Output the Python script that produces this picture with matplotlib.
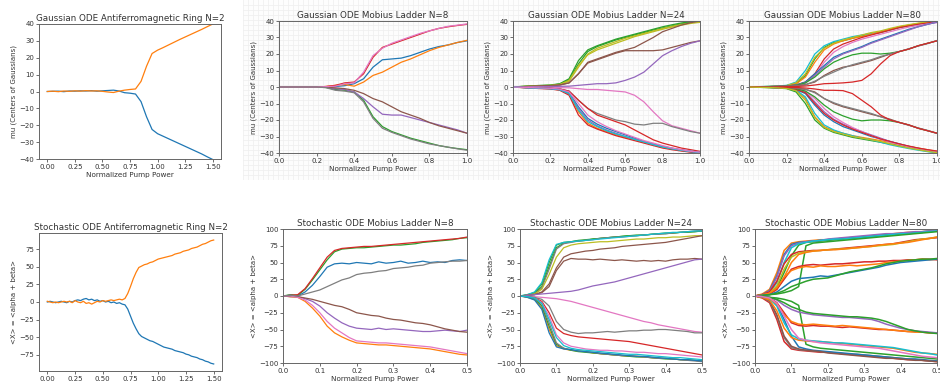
import numpy as np
import matplotlib.pyplot as plt

# ---- data ----
# antiferromagnetic ring, gaussian ODE (x 0..1.5)
ring_gauss_blue = [0, 0.1, 0.2, -0.1, 0.3, 0.2, 0.4, 0.3, 0.5, 0.2, 0.4, 0.6, 0.8, 0.3, -0.7, -1.0, -1.5,
                   -6, -15, -22.5, -25, -26.5, -28, -29.5, -31, -32.5, -34, -35.5, -37, -38.7, -40.3]
ring_gauss_orange = [0, 0.2, -0.1, 0.3, 0.1, 0.4, 0.2, 0.5, 0.3, 0.4, 0.1, -0.3, -0.6, 0.2, 0.8, 1.2, 1.5,
                     6, 15, 22.5, 24.5, 26, 27.6, 29.2, 30.8, 32.3, 33.8, 35.3, 36.8, 38.4, 40]

# antiferromagnetic ring, stochastic ODE (x 0..1.5)
ring_sto_blue = [0, 1, 0, -1, 0, 1, 0, -1, 1, 0, 2, 3, 2, 4, 5, 3, 4, 2, 3, 1, 2, 0, 1, -1, 0, -2, -1, -3, -4,
                 -10, -20, -30, -38, -45, -49, -51, -53, -55, -56, -58, -60, -62, -64, -65, -66, -67, -69, -70,
                 -71, -72, -74, -75, -77, -78, -79, -81, -82, -84, -85, -87, -88]
ring_sto_orange = [1, 0, -1, 0, -1, 0, 1, 0, 1, -1, 2, 0, -1, 1, -2, -1, -3, -1, 1, 0, 2, 1, 2, 3, 2, 3, 4, 3, 5,
                   12, 22, 33, 42, 49, 51, 53, 54, 56, 57, 59, 61, 62, 63, 64, 65, 66, 68, 69, 70, 72, 73, 74,
                   76, 77, 78, 80, 82, 83, 85, 87, 88]

# mobius ladder, gaussian ODE (x 0..1)
gauss_n8 = [
    ("C0", [0, 0, 0, 0, 0, 0.2, 0.3, 0.8, 2, 5, 12, 16.5, 17, 17.5, 19, 21, 23, 24.5, 25.5, 27, 28]),
    ("C1", [0, 0, 0, 0, 0, 0.3, 1, 1.5, 0.5, 3, 7, 9, 12, 15, 17, 19.5, 22, 24, 25.5, 27, 28.3]),
    ("C2", [0, 0, 0, 0, 0, -0.3, -1.5, -2, -3, -8, -18, -24, -27, -29, -31, -32.5, -34, -35.5, -36.5, -37.3, -38]),
    ("C3", [0, 0, 0, 0, 0, 0.3, 1, 2.5, 3, 8, 18, 24, 26, 28, 30, 32, 34, 35.5, 36.5, 37.3, 38]),
    ("C4", [0, 0, 0, 0, 0, -0.2, -1, -1.5, -3, -7, -12, -16.5, -17, -17, -18.5, -20, -21.5, -23, -24.5, -26, -28]),
    ("C5", [0, 0, 0, 0, 0, -0.2, -0.5, -1, -2, -4, -7, -9, -12, -15, -17, -19, -21.5, -23.5, -25, -26.5, -28]),
    ("C6", [0, 0, 0, 0, 0, 0.2, 0.5, 2, 2.5, 9, 19, 23.5, 26.5, 28.5, 30.5, 32.5, 34, 35.5, 36.8, 37.5, 38.2]),
    ("C7", [0, 0, 0, 0, 0, -0.4, -2, -2.5, -3.5, -9, -19, -25, -27.5, -29.5, -31.5, -33, -34.5, -35.5, -36.5, -37.5, -38.3]),
]
gauss_n24 = [
    ("C2", [0, 0.3, 0.6, 0.8, 1, 1.8, 4.5, 14, 21.5, 24.5, 26.5, 28.5, 30, 31.5, 33, 34.5, 35.8, 37, 38.2, 39.2, 40]),
    ("C8", [0, 0.2, 0.5, 0.7, 0.9, 1.5, 3.5, 12, 20, 23.5, 25.5, 27.5, 29.5, 31, 32.5, 34, 35.5, 36.8, 38, 39, 39.7]),
    ("C2", [0, 0.4, 0.7, 1, 1.2, 2, 5, 16, 22.5, 25, 27, 29, 30.5, 32, 33.5, 35, 36.5, 37.7, 38.8, 39.6, 40.2]),
    ("C8", [0, 0.3, 0.5, 0.8, 1, 1.6, 4, 13, 19.5, 22.5, 24.5, 26.5, 28.5, 30.5, 32, 33.5, 35, 36.3, 37.5, 38.5, 39.2]),
    ("C5", [0, 0.2, 0.4, 0.6, 0.8, 1.2, 2.5, 8, 15, 17, 19, 21, 22.5, 24, 27, 30, 33.5, 35.5, 37.5, 39, 40]),
    ("C5", [0, 0.2, 0.4, 0.6, 0.8, 1.2, 2.5, 8, 14.5, 16.5, 18.5, 20.5, 22, 22, 22, 22, 22.5, 24, 25.5, 27, 28]),
    ("C4", [0, 0, 0.1, 0.2, 0.3, 0.4, 0.5, 1, 1.5, 2, 2, 2.5, 4, 6, 9, 14, 19, 22, 24.5, 26.5, 28]),
    ("C6", [0, 0, -0.1, -0.2, -0.3, -0.4, -0.5, -1, -1.5, -1.5, -2, -2.5, -3, -5, -9, -15, -20.5, -23.5, -25, -26.5, -28]),
    ("C7", [0, -0.2, -0.4, -0.6, -0.8, -1.2, -2.5, -8, -13, -16, -18, -20, -21, -22.5, -23, -22, -22, -24, -25.5, -27, -28]),
    ("C3", [0, -0.2, -0.4, -0.6, -0.8, -1.2, -2.5, -8, -13, -17, -19, -21, -23, -26, -29, -32, -34, -35.5, -37, -38, -39]),
    ("C1", [0, -0.3, -0.6, -0.8, -1, -1.8, -4.5, -15, -22, -25, -27, -29, -30.5, -32, -33.5, -35, -36.5, -37.5, -38.5, -39.3, -40]),
    ("C3", [0, -0.4, -0.7, -1, -1.2, -2, -5, -17, -23, -25.5, -27.5, -29.5, -31, -32.5, -34, -35.5, -37, -38, -38.8, -39.5, -40.2]),
    ("C0", [0, -0.2, -0.5, -0.7, -0.9, -1.5, -3.5, -12, -19, -22.5, -25, -27, -29, -31, -33, -34.5, -36, -37.2, -38.2, -39, -39.7]),
    ("C4", [0, -0.3, -0.5, -0.8, -1, -1.6, -4, -13, -20, -23.5, -26, -28, -30, -31.5, -33, -34.5, -36, -37, -38, -38.8, -39.5]),
    ("C9", [0, -0.3, -0.6, -0.8, -1, -1.7, -4, -14, -21, -24, -26.5, -28.5, -30, -31.8, -33.3, -35, -36.4, -37.5, -38.4, -39.2, -39.8]),
    ("C6", [0, -0.2, -0.4, -0.6, -0.8, -1.3, -3, -10, -17, -21, -24, -26.5, -28.5, -30.5, -32.5, -34, -35.5, -37, -38, -39, -39.5]),
]
gauss_n80 = [
    ("C2", [0, 0.1, 0.3, 0.5, 0.8, 2, 7, 17, 24, 27, 28, 29.5, 31, 32, 33, 34.5, 36, 37, 38, 39, 39.8]),
    ("C9", [0, 0.2, 0.4, 0.6, 1, 3, 10, 20, 25, 27.5, 29, 30.5, 31.5, 32.5, 33.5, 35, 36.3, 37.3, 38.3, 39.2, 40]),
    ("C1", [0, 0.1, 0.2, 0.4, 0.7, 1.8, 6, 15, 22.5, 26, 28, 29.5, 30.5, 32, 33.5, 35, 36.5, 37.5, 38.5, 39.3, 40]),
    ("C8", [0, 0.2, 0.3, 0.5, 0.9, 2.5, 8, 18, 23.5, 26.5, 28.5, 30, 31.5, 33, 34, 35.5, 36.8, 37.8, 38.7, 39.4, 40.1]),
    ("C3", [0, 0.1, 0.2, 0.3, 0.6, 1.2, 3, 8, 17, 23, 26, 28, 30, 31.5, 33, 34.5, 36, 37, 38, 38.8, 39.5]),
    ("C6", [0, 0.1, 0.2, 0.3, 0.5, 1, 2.5, 7, 15, 21, 24.5, 27, 29, 30.5, 32, 33.5, 35, 36.3, 37.3, 38.2, 39]),
    ("C0", [0, 0.1, 0.2, 0.4, 0.6, 1.2, 3, 8, 13, 18, 20.5, 22.5, 24.5, 27, 29, 31, 33, 35, 36.5, 38, 39.3]),
    ("C4", [0, 0.1, 0.2, 0.3, 0.5, 1, 2.5, 7, 12, 17, 20, 22, 24, 26.5, 28.5, 30.5, 32.5, 34.5, 36.5, 38, 39.5]),
    ("C2", [0, 0.1, 0.2, 0.3, 0.5, 1, 2.5, 6, 11, 15, 17.5, 19.5, 20.5, 20.5, 20, 20.5, 21.5, 23, 25, 26.5, 28]),
    ("C5", [0, 0.1, 0.2, 0.3, 0.5, 0.8, 1.5, 3, 7, 10, 12, 13, 14.5, 16, 18, 20, 21.5, 23, 25, 26.5, 28]),
    ("C7", [0, 0.1, 0.2, 0.3, 0.4, 0.7, 1.3, 3.5, 6.5, 9, 11.5, 13.5, 15, 16.5, 18.5, 20, 21.5, 23.2, 24.8, 26.3, 28.2]),
    ("C3", [0, 0, 0.1, 0.1, 0.2, 0.3, 0.6, 1.2, 2, 2.2, 2.5, 3, 4, 8, 14, 19, 21.5, 23, 25, 26.5, 28]),
    ("C1", [0, -0.1, -0.3, -0.5, -0.8, -2, -7, -18, -24, -26.5, -28, -29.5, -30.5, -31.5, -32.5, -33.5, -35, -36, -37, -38, -39]),
    ("C2", [0, -0.2, -0.4, -0.6, -1, -3, -10, -20, -25, -27.5, -29, -30.5, -31.5, -32.5, -33.5, -34.5, -35.5, -36.5, -37.5, -38.5, -39.5]),
    ("C9", [0, -0.1, -0.2, -0.4, -0.7, -1.8, -6, -16, -23, -26, -28, -29.5, -31, -32, -33.5, -35, -36.2, -37.3, -38.3, -39.2, -40]),
    ("C0", [0, -0.1, -0.2, -0.4, -0.7, -1.5, -4, -11, -17, -21, -24, -26, -28, -30, -31.5, -33, -34.5, -36, -37.2, -38.3, -39.3]),
    ("C4", [0, -0.1, -0.2, -0.3, -0.6, -1.2, -3, -9, -15, -19.5, -22.5, -25, -27, -29, -31, -33, -34.5, -36, -37.3, -38.5, -39.5]),
    ("C6", [0, -0.1, -0.2, -0.3, -0.5, -1, -2.5, -7, -13, -18, -21.5, -24.5, -27, -29.5, -31.5, -33.5, -35, -36.3, -37.3, -38.3, -39]),
    ("C3", [0, -0.1, -0.2, -0.3, -0.6, -1.4, -3.5, -10, -16, -20, -23, -25.5, -27.5, -29.5, -31.5, -33, -34.5, -35.8, -37, -38, -38.8]),
    ("C2", [0, -0.1, -0.2, -0.3, -0.5, -1, -2.5, -6, -11, -15, -17.5, -19.5, -20.5, -20, -20, -20.5, -21.5, -23, -25, -26.5, -28]),
    ("C5", [0, -0.1, -0.2, -0.3, -0.5, -0.8, -1.5, -3, -7, -10, -12, -13.5, -15, -16.5, -18, -19.5, -21.5, -23, -25, -26.5, -28]),
    ("C7", [0, -0.1, -0.2, -0.3, -0.4, -0.7, -1.3, -3.5, -7, -9.5, -11.5, -13, -14.5, -16, -18, -20, -21.5, -23.2, -24.8, -26.3, -28.2]),
    ("C3", [0, 0, -0.1, -0.1, -0.2, -0.3, -0.6, -1.2, -2, -2, -2.2, -4, -8, -12, -17, -20, -21.5, -23, -25, -26.5, -28]),
    ("C8", [0, -0.2, -0.3, -0.5, -0.9, -2.2, -8, -18.5, -24.5, -27, -28.5, -30, -31, -32, -33, -34.5, -35.8, -37, -38, -39, -39.8]),
]

# mobius ladder, stochastic ODE (x 0..0.5)
sto_n8 = [
    ("C0", [0, 1, 0, 6, 16, 29, 43, 48, 49, 48, 50, 49, 48, 51, 49, 50, 52, 49, 50, 52, 50, 51, 50, 53, 54, 53]),
    ("C1", [0, -1, -2, -8, -18, -30, -45, -55, -61, -66, -70, -71, -72, -73, -73, -74, -75, -76, -77, -78, -79, -81, -83, -85, -87, -88]),
    ("C2", [0, 2, 1, 10, 24, 39, 54, 66, 70, 71, 72, 72, 73, 74, 75, 76, 76, 77, 78, 80, 81, 82, 83, 84, 86, 87]),
    ("C3", [0, 1, 2, 11, 26, 42, 58, 68, 71, 72, 73, 74, 74, 75, 76, 77, 78, 79, 80, 81, 82, 83, 84, 85, 86, 88]),
    ("C4", [0, 1, -1, -4, -8, -15, -25, -33, -40, -45, -48, -49, -50, -48, -50, -49, -50, -51, -52, -53, -53, -52, -51, -52, -53, -51]),
    ("C5", [0, -1, -1, -3, -5, -8, -11, -14, -16, -20, -25, -27, -29, -30, -33, -35, -36, -38, -40, -41, -43, -46, -49, -51, -53, -54]),
    ("C6", [0, 0, -2, -6, -14, -25, -38, -48, -55, -62, -67, -68, -69, -70, -70, -71, -72, -73, -74, -75, -76, -78, -80, -82, -84, -86]),
    ("C7", [0, 1, 0, 3, 6, 9, 14, 19, 24, 27, 32, 34, 35, 37, 38, 41, 42, 43, 45, 46, 49, 50, 51, 52, 52, 53]),
]
sto_n24 = [
    ("C2", [0, 2, 5, 18, 50, 76, 80, 81, 82, 83, 85, 86, 87, 88, 89, 90, 91, 91, 92, 93, 94, 94, 95, 96, 96, 97]),
    ("C2", [0, 1, 4, 14, 44, 72, 79, 81, 83, 84, 85, 86, 87, 88, 89, 90, 90, 91, 92, 93, 93, 94, 95, 95, 96, 97]),
    ("C7", [0, 1, 3, 12, 40, 70, 78, 80, 82, 83, 84, 86, 87, 88, 88, 89, 90, 91, 92, 92, 93, 94, 95, 96, 97, 98]),
    ("C9", [0, 2, 6, 20, 54, 77, 80, 81, 82, 83, 84, 85, 86, 87, 88, 89, 90, 91, 92, 93, 94, 95, 95, 96, 97, 97]),
    ("C8", [0, 1, 3, 10, 32, 58, 72, 76, 78, 79, 80, 81, 81, 82, 83, 84, 85, 85, 86, 87, 87, 88, 88, 89, 90, 90]),
    ("C5", [0, 1, 2, 6, 18, 42, 58, 63, 65, 67, 68, 70, 71, 72, 74, 75, 76, 77, 78, 79, 80, 82, 84, 86, 88, 90]),
    ("C5", [0, 1, 2, 5, 14, 38, 52, 56, 55, 55, 54, 55, 54, 53, 54, 53, 52, 53, 52, 53, 52, 54, 55, 55, 56, 55]),
    ("C4", [0, 1, 2, 3, 4, 5, 6, 7, 9, 12, 15, 17, 19, 21, 24, 27, 30, 33, 36, 39, 42, 45, 48, 51, 54, 55]),
    ("C6", [0, -1, -1, -2, -3, -4, -6, -8, -11, -14, -17, -20, -23, -26, -29, -32, -35, -38, -40, -43, -45, -47, -49, -51, -53, -54]),
    ("C7", [0, -1, -2, -5, -15, -38, -50, -54, -56, -55, -55, -54, -53, -54, -53, -52, -52, -51, -51, -50, -50, -51, -52, -53, -55, -55]),
    ("C3", [0, -1, -3, -8, -25, -48, -56, -59, -61, -62, -63, -64, -65, -66, -67, -68, -70, -72, -74, -76, -78, -80, -82, -84, -86, -88]),
    ("C6", [0, -1, -3, -10, -30, -58, -70, -75, -77, -79, -80, -81, -81, -82, -82, -83, -84, -84, -85, -86, -86, -87, -88, -89, -90, -91]),
    ("C1", [0, -2, -5, -18, -50, -74, -79, -81, -82, -83, -85, -86, -87, -88, -89, -90, -90, -91, -92, -93, -93, -94, -95, -96, -96, -97]),
    ("C2", [0, -1, -4, -15, -45, -72, -78, -81, -83, -84, -85, -86, -87, -88, -89, -90, -91, -91, -92, -93, -94, -94, -95, -95, -96, -97]),
    ("C7", [0, -1, -3, -12, -40, -70, -78, -80, -82, -83, -84, -86, -87, -88, -89, -89, -90, -91, -92, -93, -93, -94, -95, -96, -97, -98]),
    ("C0", [0, -2, -6, -20, -55, -76, -79, -80, -82, -83, -84, -85, -86, -87, -88, -89, -90, -90, -91, -92, -93, -94, -95, -95, -96, -97]),
    ("C9", [0, -1, -3, -11, -35, -62, -74, -78, -80, -81, -82, -83, -84, -85, -86, -87, -87, -88, -89, -90, -91, -92, -92, -93, -94, -95]),
]
sto_n80 = [
    ("C1", [0, 3, 10, 35, 68, 79, 81, 82, 83, 84, 84, 85, 86, 87, 88, 89, 90, 91, 92, 93, 94, 95, 95, 96, 97, 98]),
    ("C0", [0, 2, 8, 30, 62, 77, 80, 81, 82, 83, 84, 85, 86, 87, 87, 88, 89, 90, 91, 92, 93, 94, 95, 96, 97, 97]),
    ("C2", [0, 1, 4, 12, 35, 60, 76, 80, 81, 82, 83, 84, 85, 86, 87, 88, 89, 90, 91, 92, 93, 94, 94, 95, 96, 97]),
    ("C4", [0, 2, 7, 28, 60, 75, 79, 81, 82, 83, 85, 86, 87, 88, 89, 90, 91, 92, 93, 93, 94, 95, 96, 96, 97, 98]),
    ("C9", [0, 1, 5, 20, 50, 72, 78, 80, 82, 83, 84, 85, 85, 86, 87, 88, 89, 90, 91, 92, 93, 93, 94, 95, 96, 97]),
    ("C2", [0, 1, 2, 3, 5, 8, 14, 75, 79, 80, 81, 82, 83, 84, 85, 86, 87, 88, 89, 90, 91, 92, 93, 94, 95, 96]),
    ("C3", [0, 2, 6, 22, 48, 62, 66, 67, 68, 68, 69, 70, 71, 72, 73, 74, 75, 76, 77, 78, 80, 82, 84, 85, 86, 87]),
    ("C8", [0, 1, 4, 15, 40, 58, 64, 66, 67, 68, 69, 70, 70, 71, 72, 73, 74, 75, 76, 77, 79, 81, 83, 85, 86, 88]),
    ("C1", [0, 1, 3, 10, 28, 50, 62, 65, 67, 68, 69, 69, 70, 71, 72, 73, 74, 76, 77, 78, 79, 80, 82, 84, 86, 88]),
    ("C3", [0, 1, 3, 10, 25, 40, 44, 46, 47, 46, 47, 48, 48, 49, 50, 51, 51, 52, 52, 53, 53, 54, 54, 55, 55, 54]),
    ("C1", [0, 2, 4, 12, 28, 38, 42, 44, 43, 45, 44, 44, 45, 46, 45, 46, 47, 48, 50, 51, 52, 53, 54, 55, 54, 55]),
    ("C0", [0, 1, 2, 6, 14, 22, 26, 27, 28, 30, 29, 31, 33, 35, 37, 39, 41, 43, 46, 48, 50, 51, 52, 53, 54, 55]),
    ("C2", [0, 1, 2, 4, 8, 14, 18, 22, 25, 26, 27, 30, 33, 36, 38, 40, 42, 45, 48, 50, 52, 53, 54, 55, 55, 56]),
    ("C3", [0, -3, -10, -35, -68, -79, -81, -82, -83, -84, -84, -85, -86, -87, -88, -89, -90, -91, -92, -93, -94, -95, -95, -96, -97, -98]),
    ("C7", [0, -2, -8, -30, -62, -77, -80, -81, -82, -83, -84, -85, -86, -87, -87, -88, -89, -90, -91, -92, -93, -94, -95, -96, -97, -97]),
    ("C0", [0, -1, -4, -12, -35, -60, -76, -79, -81, -82, -83, -84, -85, -86, -87, -88, -89, -90, -91, -92, -93, -94, -94, -95, -96, -97]),
    ("C5", [0, -2, -7, -28, -60, -75, -79, -81, -82, -83, -85, -86, -87, -88, -89, -90, -91, -92, -93, -93, -94, -95, -96, -96, -97, -98]),
    ("C2", [0, -1, -2, -3, -5, -8, -14, -72, -76, -78, -79, -80, -81, -82, -83, -84, -85, -86, -87, -88, -89, -90, -91, -92, -93, -94]),
    ("C1", [0, -2, -6, -22, -48, -62, -66, -67, -68, -68, -69, -70, -71, -72, -73, -74, -75, -76, -77, -78, -80, -82, -84, -85, -86, -87]),
    ("C9", [0, -1, -4, -15, -40, -58, -64, -66, -67, -68, -69, -70, -70, -71, -72, -73, -74, -75, -76, -77, -79, -81, -83, -85, -86, -88]),
    ("C3", [0, -1, -3, -10, -25, -40, -44, -45, -44, -45, -45, -46, -47, -46, -47, -48, -49, -50, -50, -51, -52, -53, -53, -54, -55, -55]),
    ("C1", [0, -2, -4, -12, -28, -38, -42, -43, -42, -43, -44, -45, -44, -45, -46, -47, -48, -49, -50, -51, -52, -53, -54, -54, -55, -55]),
    ("C4", [0, -1, -2, -6, -14, -20, -24, -26, -28, -29, -30, -31, -32, -32, -33, -34, -35, -38, -42, -45, -48, -50, -52, -53, -54, -55]),
    ("C2", [0, -1, -2, -5, -10, -16, -20, -24, -26, -27, -28, -29, -30, -31, -31, -32, -33, -35, -38, -42, -46, -50, -52, -54, -55, -56]),
    ("C6", [0, -1, -3, -11, -30, -50, -63, -66, -68, -70, -71, -72, -73, -74, -75, -76, -77, -78, -80, -82, -84, -86, -88, -90, -91, -92]),
]

ring_xticks = [0, 0.25, 0.5, 0.75, 1.0, 1.25, 1.5]
ring_sto_yticks = [-75, -50, -25, 0, 25, 50, 75]
gauss_yticks = [-40, -30, -20, -10, 0, 10, 20, 30, 40]
sto_yticks = [-100, -75, -50, -25, 0, 25, 50, 75, 100]

W, H = 940, 383
fig = plt.figure(figsize=(9.4, 3.83), dpi=100)
fig.patch.set_facecolor('white')


def add_ax(l, t, r, b):
    return fig.add_axes([l / W, 1 - b / H, (r - l) / W, (b - t) / H])


# faint graph-paper background behind the top-right panels
bg = add_ax(243, 0, 940, 180)
bg.set_xlim(0, 697)
bg.set_ylim(0, 180)
bg.set_xticks(np.arange(0, 697, 5))
bg.set_yticks(np.arange(0, 180, 5))
bg.grid(True, color='#f0f0f0', lw=0.6)
bg.tick_params(length=0, labelbottom=False, labelleft=False)
for s in bg.spines.values():
    s.set_visible(False)
bg.set_zorder(-5)
bg.set_facecolor('#fdfdfd')

TXT = '#333333'


def style(ax, title, ylabel, xlabel='Normalized Pump Power'):
    ax.set_facecolor('none')
    ax.set_title(title, fontsize=6.3, color=TXT, pad=2.5)
    ax.set_ylabel(ylabel, fontsize=5.0, color=TXT, labelpad=1.5)
    ax.set_xlabel(xlabel, fontsize=5.2, color=TXT, labelpad=1.5)
    ax.tick_params(labelsize=5.0, length=2.2, width=0.5, pad=1.2, colors=TXT)
    for s in ax.spines.values():
        s.set_color('#666666')
        s.set_linewidth(0.7)


# ---- top row ----
ax = add_ax(39, 24, 221, 159)
x = np.linspace(0, 1.5, len(ring_gauss_blue))
ax.plot(x, ring_gauss_blue, color='C0', lw=0.9)
ax.plot(x, ring_gauss_orange, color='C1', lw=0.9)
ax.set_ylim(-40, 40)
ax.set_xticks(ring_xticks)
ax.set_xticklabels(['%.2f' % v for v in ring_xticks])
ax.set_yticks(gauss_yticks)
style(ax, 'Gaussian ODE Antiferromagnetic Ring N=2', 'mu (Centers of Gaussians)')

for (l, r), title, curves in [((279, 467), 'Gaussian ODE Mobius Ladder N=8', gauss_n8),
                              ((513, 700), 'Gaussian ODE Mobius Ladder N=24', gauss_n24),
                              ((749, 937), 'Gaussian ODE Mobius Ladder N=80', gauss_n80)]:
    ax = add_ax(l, 21, r, 153)
    for c, vals in curves:
        ax.plot(np.linspace(0, 1, len(vals)), vals, color=c, lw=0.9)
    ax.set_xlim(0, 1)
    ax.set_ylim(-40, 40)
    ax.set_yticks(gauss_yticks)
    style(ax, title, 'mu (Centers of Gaussians)')

# ---- bottom row ----
ax = add_ax(39, 233, 222, 371)
x = np.linspace(0, 1.5, len(ring_sto_blue))
ax.plot(x, ring_sto_blue, color='C0', lw=0.9)
ax.plot(x, ring_sto_orange, color='C1', lw=0.9)
ax.set_ylim(-98, 98)
ax.set_xticks(ring_xticks)
ax.set_xticklabels(['%.2f' % v for v in ring_xticks])
ax.set_yticks(ring_sto_yticks)
style(ax, 'Stochastic ODE Antiferromagnetic Ring N=2', '<X> = <alpha + beta>')

for (l, r), title, curves, lw in [((283, 467), 'Stochastic ODE Mobius Ladder N=8', sto_n8, 0.9),
                                  ((520, 702), 'Stochastic ODE Mobius Ladder N=24', sto_n24, 0.9),
                                  ((755, 937), 'Stochastic ODE Mobius Ladder N=80', sto_n80, 1.1)]:
    ax = add_ax(l, 229, r, 363)
    for c, vals in curves:
        ax.plot(np.linspace(0, 0.5, len(vals)), vals, color=c, lw=lw)
    ax.set_xlim(0, 0.5)
    ax.set_ylim(-100, 100)
    ax.set_yticks(sto_yticks)
    style(ax, title, '<X> = <alpha + beta>')

fig.savefig('out.png', dpi=100)
